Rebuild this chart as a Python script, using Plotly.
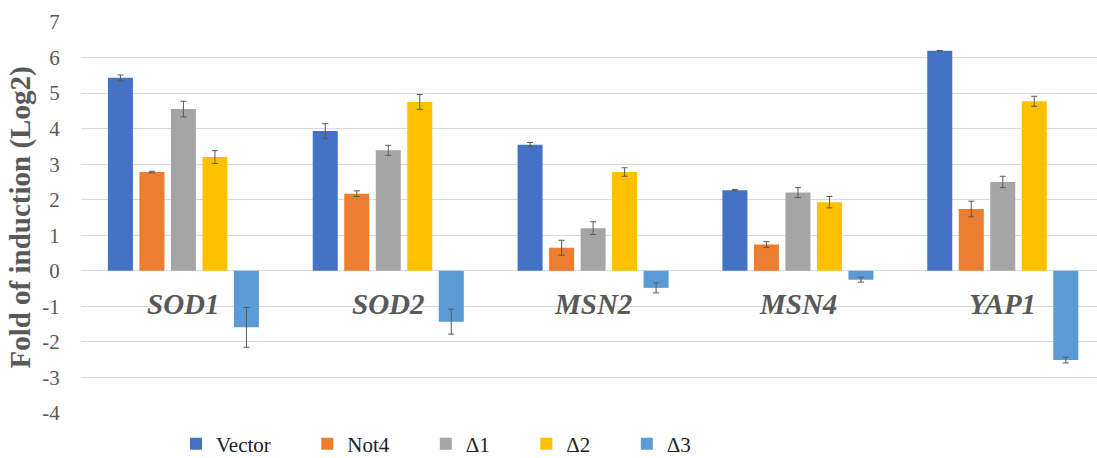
import plotly.graph_objects as go

genes = ["SOD1", "SOD2", "MSN2", "MSN4", "YAP1"]
series_names = ["Vector", "Not4", "Δ1", "Δ2", "Δ3"]
vector = [5.43, 3.93, 3.55, 2.27, 6.19]
vector_err = [0.08, 0.21, 0.06, 0.02, 0.01]
not4 = [2.78, 2.17, 0.65, 0.74, 1.74]
not4_err = [0.02, 0.08, 0.21, 0.08, 0.22]
d1 = [4.55, 3.39, 1.20, 2.20, 2.50]
d1_err = [0.22, 0.14, 0.18, 0.14, 0.16]
d2 = [3.20, 4.75, 2.78, 1.93, 4.77]
d2_err = [0.18, 0.21, 0.12, 0.16, 0.14]
d3 = [-1.59, -1.43, -0.48, -0.25, -2.51]
d3_err = [0.56, 0.35, 0.14, 0.07, 0.08]
y_ticks = [-4, -3, -2, -1, 0, 1, 2, 3, 4, 5, 6, 7]
y_tick_text = ["-4", "-3", "-2", "-1", "0", "1", "2", "3", "4", "5", "6", "7"]

values = [vector, not4, d1, d2, d3]
errors = [vector_err, not4_err, d1_err, d2_err, d3_err]
colors = ["#4472C4", "#ED7D31", "#A5A5A5", "#FFC000", "#5B9BD5"]

serif = "Liberation Serif"
pad = "\u00a0" * 6

fig = go.Figure()
for name, vals, errs, col in zip(series_names, values, errors, colors):
    fig.add_trace(go.Bar(
        x=genes, y=vals, name=name + pad,
        marker=dict(color=col, line=dict(width=0)),
        error_y=dict(type="data", array=errs, visible=True,
                     color="#595959", thickness=1, width=3),
    ))

for g in genes:
    fig.add_annotation(x=g, y=-0.94, xref="x", yref="y", text="<b><i>%s</i></b>" % g,
                       showarrow=False, yanchor="middle",
                       font=dict(family=serif, size=29, color="#595959"))

fig.update_layout(
    width=1097, height=458,
    margin=dict(l=81, r=0, t=22, b=45, autoexpand=False),
    paper_bgcolor="white", plot_bgcolor="white",
    barmode="group", bargap=0.231, bargroupgap=0.206,
    font=dict(family=serif, color="#595959"),
    showlegend=True,
    legend=dict(orientation="h", xref="container", yref="container",
                x=176 / 1097, xanchor="left", y=14 / 458, yanchor="middle",
                font=dict(family=serif, size=21, color="#222222"),
                bgcolor="rgba(0,0,0,0)"),
    xaxis=dict(range=[-0.5, 4.46], showticklabels=False, showgrid=False,
               showline=False, zeroline=False, ticks=""),
    yaxis=dict(range=[-4, 7], tickvals=y_ticks, ticktext=y_tick_text, showgrid=True,
               gridcolor="#D9D9D9", gridwidth=1, zeroline=True,
               zerolinecolor="#D9D9D9", zerolinewidth=1, showline=False,
               ticks="outside", ticklen=16, tickcolor="rgba(0,0,0,0)",
               tickfont=dict(family=serif, size=21, color="#595959"),
               title=dict(text="<b>Fold of induction (Log2)</b>", standoff=3,
                          font=dict(family=serif, size=29, color="#595959"))),
)

fig.write_html("out.html", config={"displayModeBar": False},
               post_script="document.body.style.margin='0';document.body.style.overflow='hidden';")
